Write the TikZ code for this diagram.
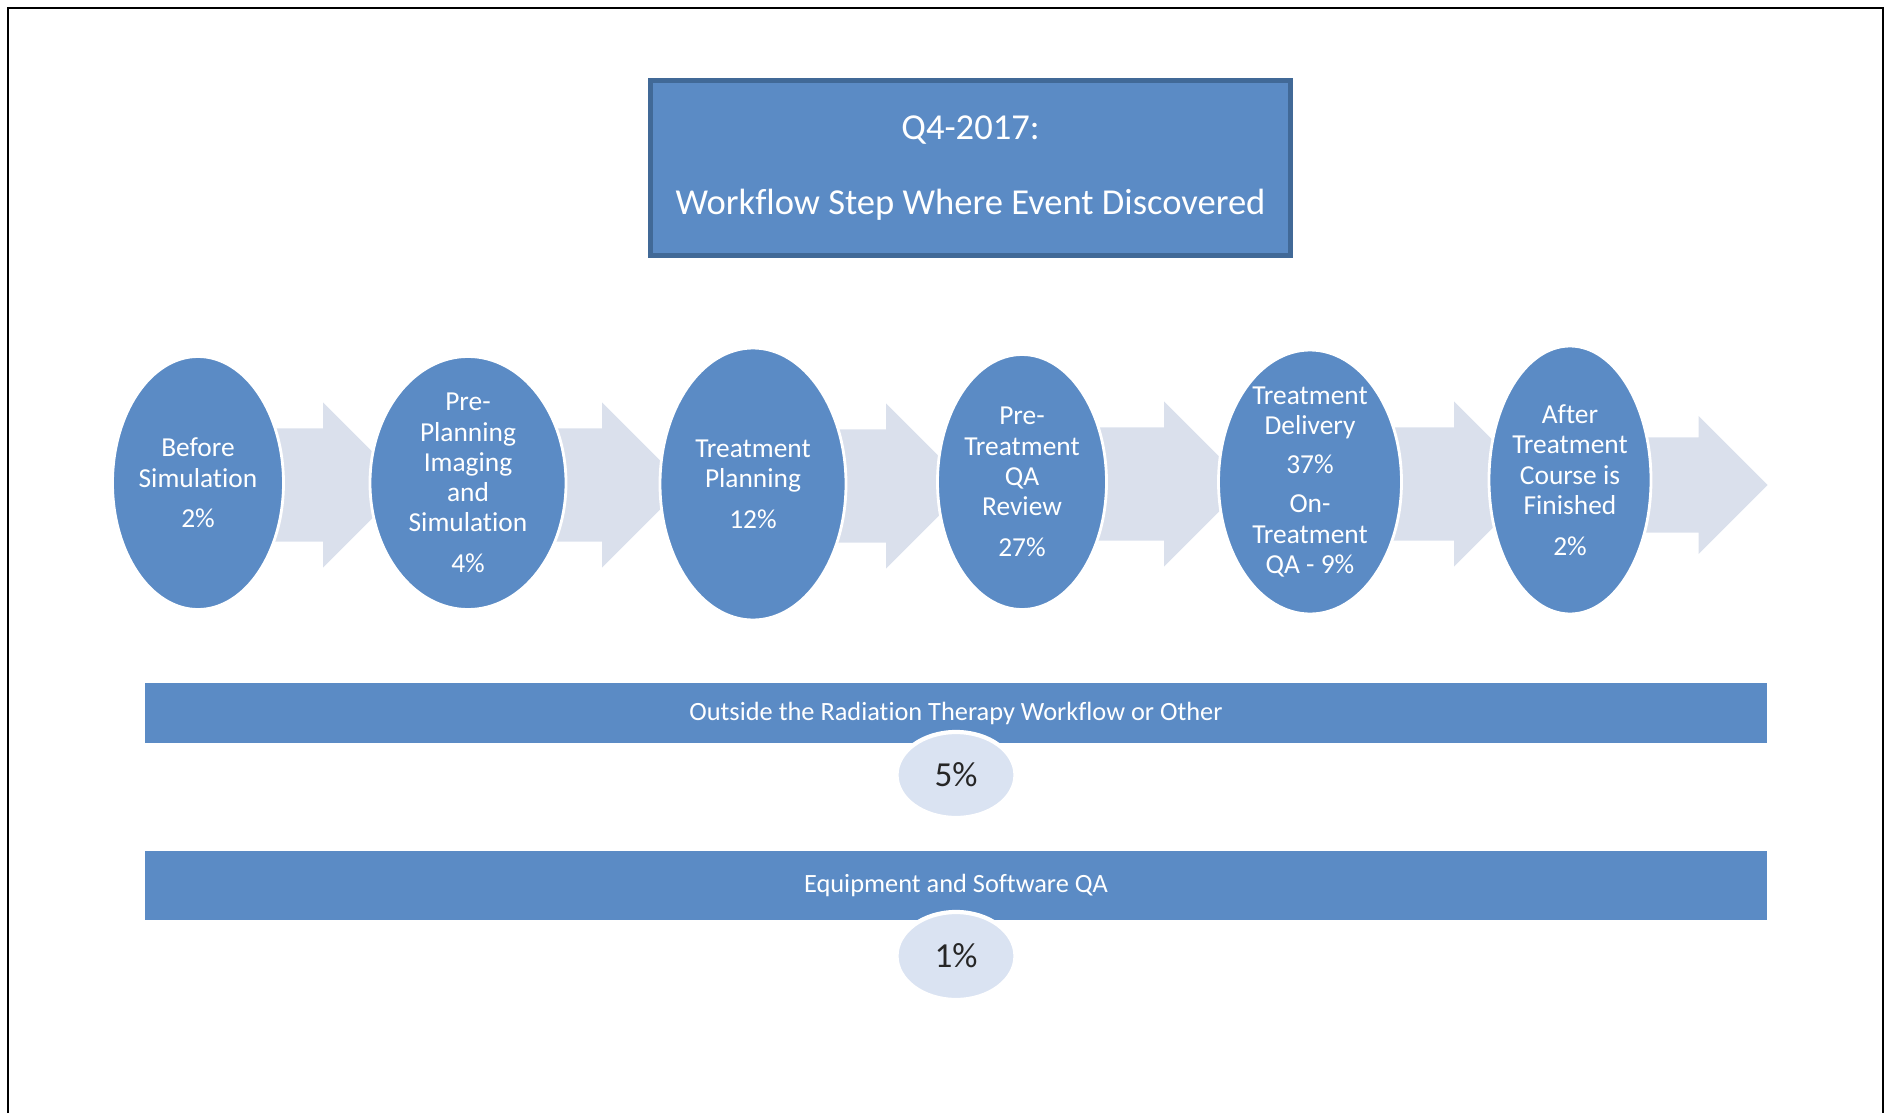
\documentclass[tikz,border=0pt]{standalone}
\usepackage{fontspec}
\setmainfont{Carlito}[Ligatures=NoCommon]
\usetikzlibrary{shapes.geometric,shapes.arrows,backgrounds}

\definecolor{stepblue}{RGB}{91,139,197}
\definecolor{stepedge}{RGB}{65,105,151}
\definecolor{arrowgrey}{RGB}{218,224,236}
\definecolor{pctfill}{RGB}{218,227,242}

\begin{document}
\begin{tikzpicture}
        [font=\fontsize{7.8}{8.6}\selectfont]
        \tikzset{
          stepnode/.style={ellipse, fill=stepblue, draw=white, line width=0.8pt, inner sep=0pt},
          steptext/.style={text=white, align=center, inner sep=0pt},
          flowarrow/.style={single arrow, fill=arrowgrey, draw=none, inner xsep=0pt,
            inner ysep=0.56cm, minimum width=1.64cm, single arrow head extend=0.26cm,
            single arrow tip angle=90, anchor=tail},
          barbox/.style={rectangle, fill=stepblue, minimum width=16.22cm, text=white,
            inner sep=0pt, font=\fontsize{7.5}{9}\selectfont},
          pctnode/.style={ellipse, fill=pctfill, draw=white, line width=1.2pt,
            minimum width=1.19cm, inner sep=0pt, text=black!85,
            font=\fontsize{10}{12}\selectfont}
        }
        \useasboundingbox (0,0) rectangle (18.90,11.13);
        %-----frame
        \draw[line width=0.7pt] (0.08,0) -- (0.08,11.05) -- (18.83,11.05) -- (18.83,0);

        %-----title
        \node[rectangle, fill=stepblue, draw=stepedge, line width=1.3pt,
          minimum width=6.40cm, minimum height=1.75cm, text=white, align=center,
          font=\fontsize{10.4}{12.7}\selectfont] (title) at (9.705,9.45)
          {Q4-2017:\\[8.6pt] Workflow Step Where Event Discovered};

        %-----workflow steps
        \node[stepnode, minimum width=1.71cm, minimum height=2.53cm] (e1) at (1.98,6.30) {};
        \node[stepnode, minimum width=1.96cm, minimum height=2.53cm] (e2) at (4.68,6.30) {};
        \node[stepnode, minimum width=1.86cm, minimum height=2.72cm] (e3) at (7.53,6.29) {};
        \node[stepnode, minimum width=1.69cm, minimum height=2.55cm] (e4) at (10.22,6.31) {};
        \node[stepnode, minimum width=1.83cm, minimum height=2.64cm] (e5) at (13.10,6.31) {};
        \node[stepnode, minimum width=1.62cm, minimum height=2.68cm] (e6) at (15.70,6.33) {};

        \node[steptext] (t1) at (e1) {Before\\Simulation\\[3pt]2\%};
        \node[steptext] (t2) at (e2) {Pre-\\Planning\\Imaging\\and\\Simulation\\[3pt]4\%};
        \node[steptext] (t3) at (e3) {Treatment\\Planning\\[3pt]12\%};
        \node[steptext] (t4) at (e4) {Pre-\\Treatment\\QA\\Review\\[3pt]27\%};
        \node[steptext] (t5) at (e5) {Treatment\\Delivery\\[2.5pt]37\%\\[2.5pt]On-\\Treatment\\QA - 9\%};
        \node[steptext] (t6) at (e6) {After\\Treatment\\Course is\\Finished\\[3pt]2\%};

        \begin{scope}[on background layer]
          \foreach \from/\len [count=\k] in {e1/2.07,e2/2.16,e3/2.15,e4/2.24,e5/2.26}
            \node[flowarrow, minimum height=\len cm] (ar\k) at ([yshift=-0.02cm]\from.center) {};
          \node[flowarrow, minimum height=1.97cm, minimum width=1.37cm, inner ysep=0.47cm,
            single arrow head extend=0.215cm] (ar6) at ([yshift=-0.05cm]e6.center) {};
        \end{scope}

        %-----outside the workflow
        \node[barbox, minimum height=0.60cm] (other) at (9.56,4.00) {Outside the Radiation Therapy Workflow or Other};
        \node[pctnode, minimum height=0.86cm] (p1) at (9.56,3.38) {5\%};

        \node[barbox, minimum height=0.69cm] (equip) at (9.56,2.275) {Equipment and Software QA};
        \node[pctnode, minimum height=0.88cm] (p2) at (9.56,1.57) {1\%};
\end{tikzpicture}
\end{document}
